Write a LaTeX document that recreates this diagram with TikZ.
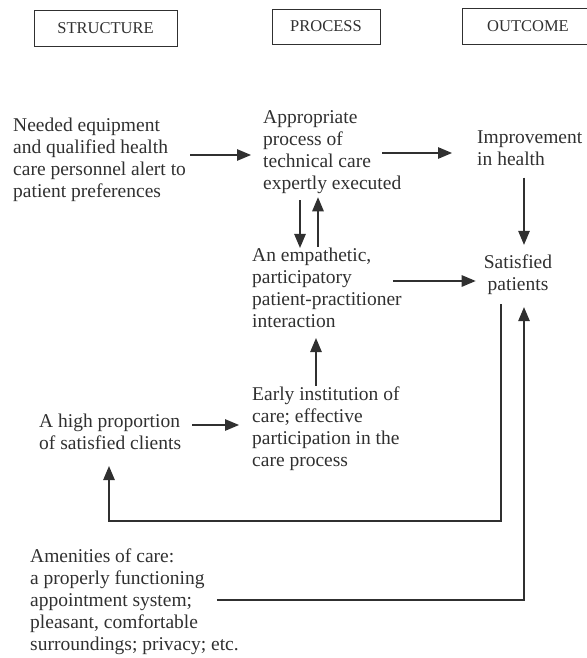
\documentclass[tikz,border=0pt]{standalone}
\usepackage{fontspec}
\setmainfont{Liberation Serif}
\usepackage{tikz}
\usetikzlibrary{arrows.meta,positioning,calc}
\definecolor{scanink}{HTML}{303030}
\tikzset{
  dtext/.style={align=left, anchor=west, inner sep=0pt, text=scanink,
                font=\fontsize{19.5}{22}\selectfont},
  dhead/.style={draw=scanink, line width=0.9pt, minimum height=36pt,
                inner sep=0pt, text=scanink, font=\fontsize{16.5}{18}\selectfont},
  darrow/.style={-{Triangle[length=14pt,width=11.5pt]}, draw=scanink,
                 line width=1.2pt},
}
\begin{document}
\begin{tikzpicture}[x=1pt,y=-1pt]
\useasboundingbox (0,0) rectangle (586,658);
% column heads
\node[dhead,minimum width=143pt] (hs) at (105.5,28) {STRUCTURE};
\node[dhead,minimum width=108pt,minimum height=35pt] (hp) at (326,26.5) {PROCESS};
\node[dhead,minimum width=132pt] (ho) at (528,26) {OUTCOME};
% texts
\node[dtext] (need) at (13,160) {Needed equipment\\and qualified health\\care personnel alert to\\patient preferences};
\node[dtext] (appr) at (263,152.5) {Appropriate\\process of\\technical care\\expertly executed};
\node[dtext] (impr) at (477,148) {Improvement\\in health};
\node[dtext] (emp) at (252,288) {An empathetic,\\participatory\\patient-practitioner\\interaction};
\node[dtext,align=center,anchor=center] (sat) at (518,275) {Satisfied\\patients};
\node[dtext] (early) at (252,429) {Early institution of\\care; effective\\participation in the\\care process};
\node[dtext] (high) at (39,432) {A high proportion\\of satisfied clients};
\node[dtext] (amen) at (30,602) {Amenities of care:\\a properly functioning\\appointment system;\\pleasant, comfortable\\surroundings; privacy; etc.};
% connectors
\draw[darrow] ($(need.east |- 0,155)+(4,0)$) -- ($(appr.west |- 0,155)+(-12,0)$);
\draw[darrow] ($(appr.east |- 0,153)+(-19,0)$) -- ($(impr.west |- 0,153)+(-25,0)$);
\draw[darrow] ($(appr.south west)+(37,6)$) -- ($(emp.north west)+(48,0)$);
\draw[darrow] ($(emp.north west)+(66,-1)$) -- ($(appr.south west)+(55,3)$);
\draw[darrow] ($(sat.north |- impr.south)+(6,12)$) -- ($(sat.north)+(6,-10)$);
\draw[darrow] ($(emp.east |- 0,281)+(-9,0)$) -- ($(sat.west |- 0,281)+(-8,0)$);
\draw[darrow] ($(early.north west)+(64,-1)$) -- ($(emp.south west)+(64,10)$);
\draw[darrow] ($(high.east |- 0,425)+(11,0)$) -- ($(early.west |- 0,425)+(-13,0)$);
\draw[darrow] ($(sat.south)+(-17,9)$) |- ($(high.south west)+(70,71)$) -- ($(high.south west)+(70,16)$);
\draw[darrow] ($(amen.east |- 0,600)+(-22,0)$) -| ($(sat.south)+(6,12)$);
\end{tikzpicture}
\end{document}
